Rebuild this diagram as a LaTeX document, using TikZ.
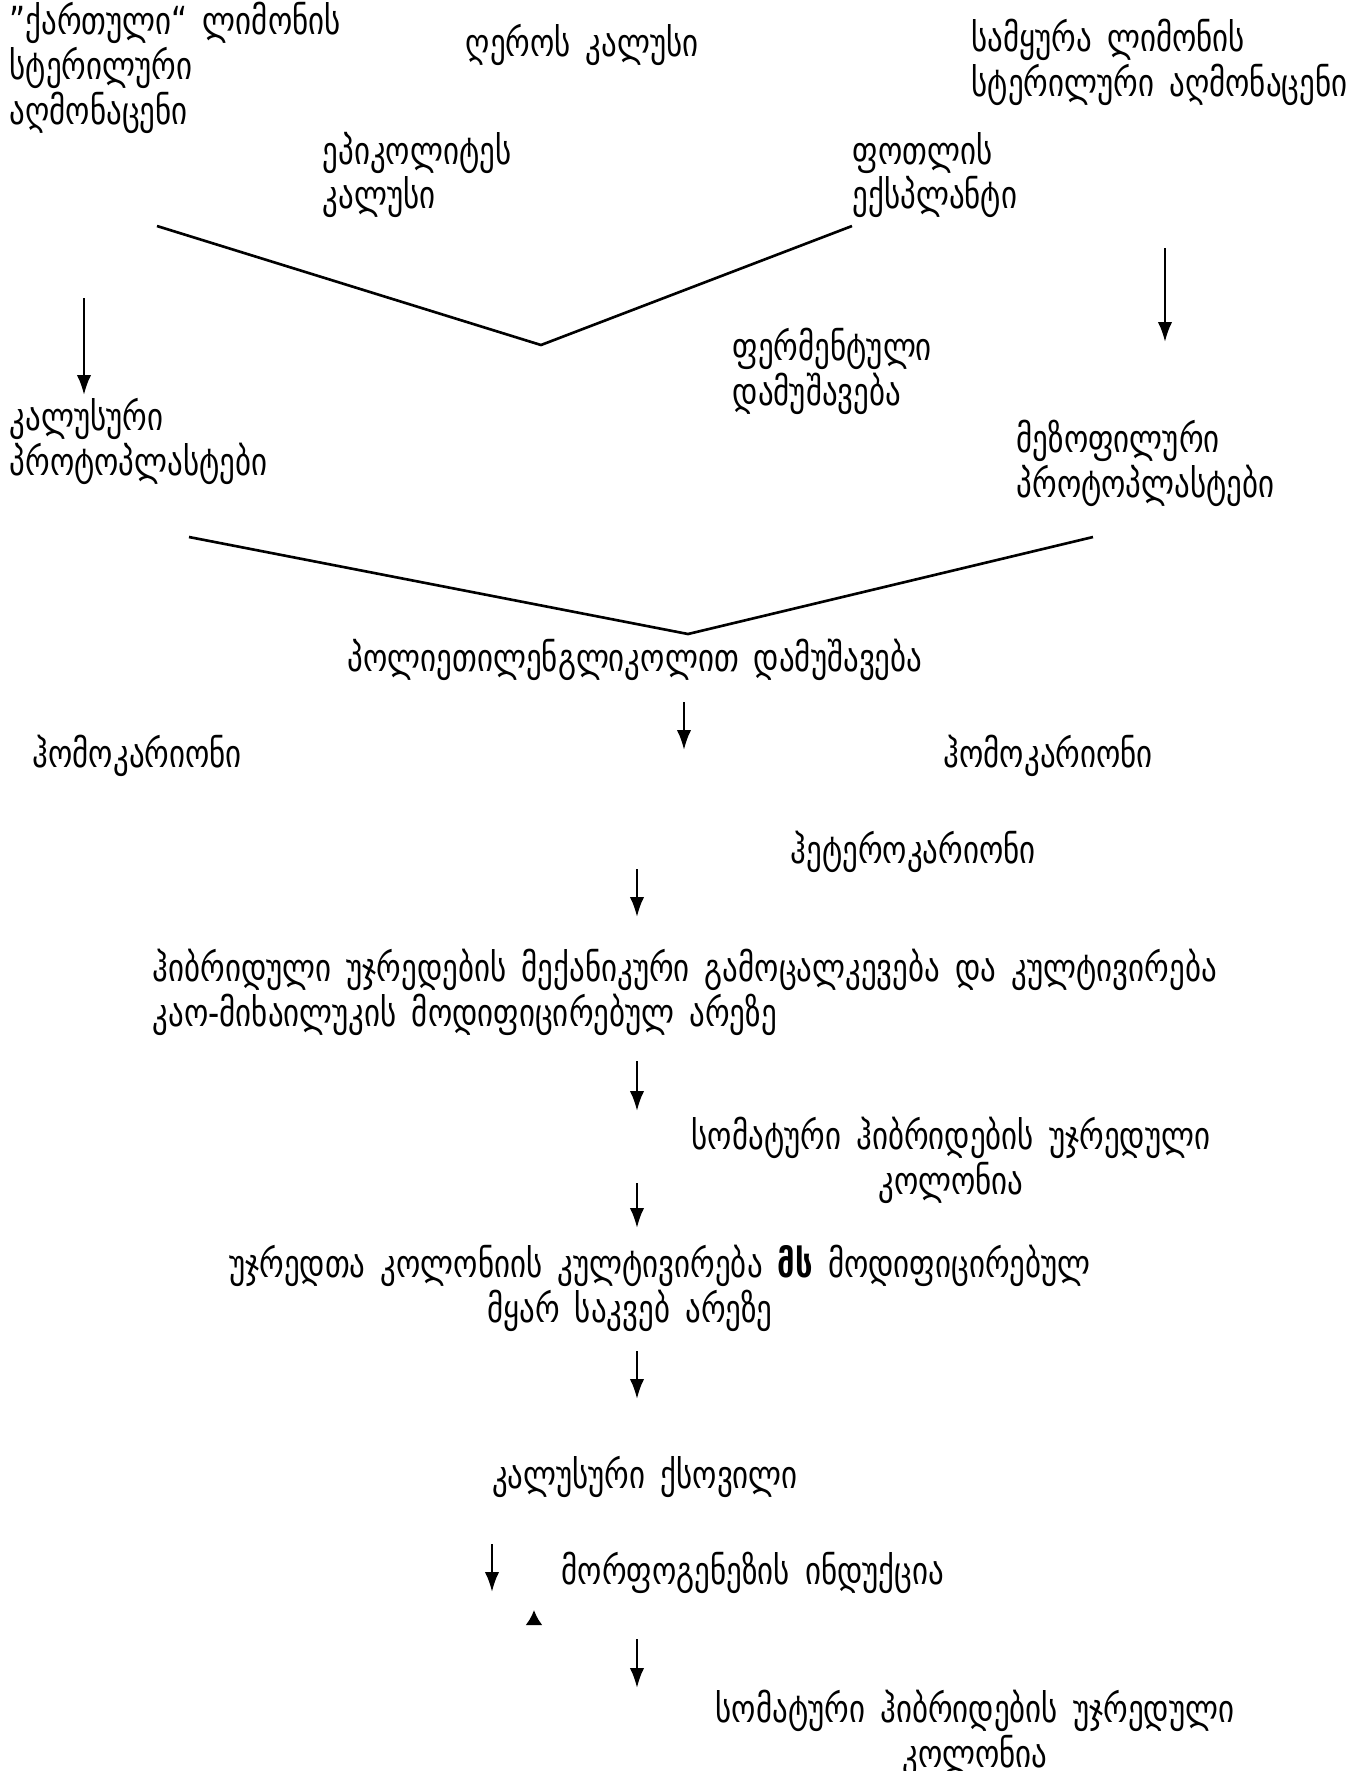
\documentclass[tikz,border=0pt]{standalone}
\usepackage{fontspec}
\setmainfont{DejaVu Sans}[FakeStretch=0.8]
\usetikzlibrary{arrows.meta}
\newcommand{\geofont}{\fontsize{11}{11}\selectfont\spaceskip=4.3pt plus 1pt\relax}

\begin{document}
\begin{tikzpicture}[
			x=0.01cm, y=-0.01cm,
			every node/.style={inner sep=0pt, font=\geofont},
			txt/.style={anchor=west, align=left},
			mid/.style={align=center},
			arrow/.style={-{Latex[length=2mm, width=1.45mm]}, line width=0.75pt},
			tinyhead/.style={-{Latex[length=1.5mm, width=1.7mm]}, line width=0.75pt},
			vline/.style={line width=0.75pt}
			]
			\useasboundingbox (0,0) rectangle (1365,1771);
			
			% Nodes
			\node (kartuli) [txt] at (9,68) {”ქართული“ ლიმონის\\სტერილური\\აღმონაცენი};
			\node (gero) [txt] at (465,45) {ღეროს კალუსი};
			\node (samkura) [txt] at (971,62) {სამყურა ლიმონის\\სტერილური აღმონაცენი};
			\node (epikol) [txt] at (322,175) {ეპიკოლიტეს\\კალუსი};
			\node (potoli) [txt] at (852,175) {ფოთლის\\ექსპლანტი};
			\node (ferment) [txt] at (732,371) {ფერმენტული\\დამუშავება};
			\node (kalproto) [txt] at (9,441) {კალუსური\\პროტოპლასტები};
			\node (mezoproto) [txt] at (1016,463) {მეზოფილური\\პროტოპლასტები};
			\node (polieti) [txt] at (347,660) {პოლიეთილენგლიკოლით დამუშავება};
			\node (homoL) [txt] at (32,756) {ჰომოკარიონი};
			\node (homoR) [txt] at (943,756) {ჰომოკარიონი};
			\node (hetero) [txt] at (790,852) {ჰეტეროკარიონი};
			\node (hibrid) [txt] at (152,992) {ჰიბრიდული უჯრედების მექანიკური გამოცალკევება და კულტივირება\\კაო-მიხაილუკის მოდიფიცირებულ არეზე};
			\node (kolonia) [mid] at (951,1160) {სომატური ჰიბრიდების უჯრედული\\კოლონია};
			\node (kultiv) [mid] at (660,1288) {უჯრედთა კოლონიის კულტივირება \textbf{მს} მოდიფიცირებულ\\მყარ საკვებ არეზე\hspace*{0.6cm}};
			\node (kalqsov) [mid] at (645,1477) {კალუსური ქსოვილი};
			\node (morfo) [txt] at (561,1573) {მორფოგენეზის ინდუქცია};
			\node (kolonia2) [mid] at (975,1733) {სომატური ჰიბრიდების უჯრედული\\კოლონია};
			
			% Coordinates
			\coordinate (va1) at (157,226);
			\coordinate (vb1) at (541,345);
			\coordinate (vc1) at (852,226);
			\coordinate (va2) at (189,537);
			\coordinate (vb2) at (688,634);
			\coordinate (vc2) at (1093,537);
			\coordinate (a1s) at (84,298);    \coordinate (a1e) at (84,395);
			\coordinate (a2s) at (1165,248);  \coordinate (a2e) at (1165,342);
			\coordinate (a3s) at (684,702);   \coordinate (a3e) at (684,750);
			\coordinate (a4s) at (637,869);   \coordinate (a4e) at (637,917);
			\coordinate (a5s) at (637,1061);  \coordinate (a5e) at (637,1111);
			\coordinate (a6s) at (637,1183);  \coordinate (a6e) at (637,1228);
			\coordinate (a7s) at (637,1351);  \coordinate (a7e) at (637,1399);
			\coordinate (a8s) at (492,1544);  \coordinate (a8e) at (492,1592);
			\coordinate (a9s) at (534,1612);  \coordinate (a9e) at (534,1610);
			\coordinate (a10s) at (637,1639); \coordinate (a10e) at (637,1688);
			
			% Connections
			\draw [vline] (va1) -- (vb1) -- (vc1);
			\draw [vline] (va2) -- (vb2) -- (vc2);
			\draw [arrow] (a1s) -- (a1e);
			\draw [arrow] (a2s) -- (a2e);
			\draw [arrow] (a3s) -- (a3e);
			\draw [arrow] (a4s) -- (a4e);
			\draw [arrow] (a5s) -- (a5e);
			\draw [arrow] (a6s) -- (a6e);
			\draw [arrow] (a7s) -- (a7e);
			\draw [arrow] (a8s) -- (a8e);
			\draw [tinyhead] (a9s) -- (a9e);
			\draw [arrow] (a10s) -- (a10e);
			
		\end{tikzpicture}
\end{document}
